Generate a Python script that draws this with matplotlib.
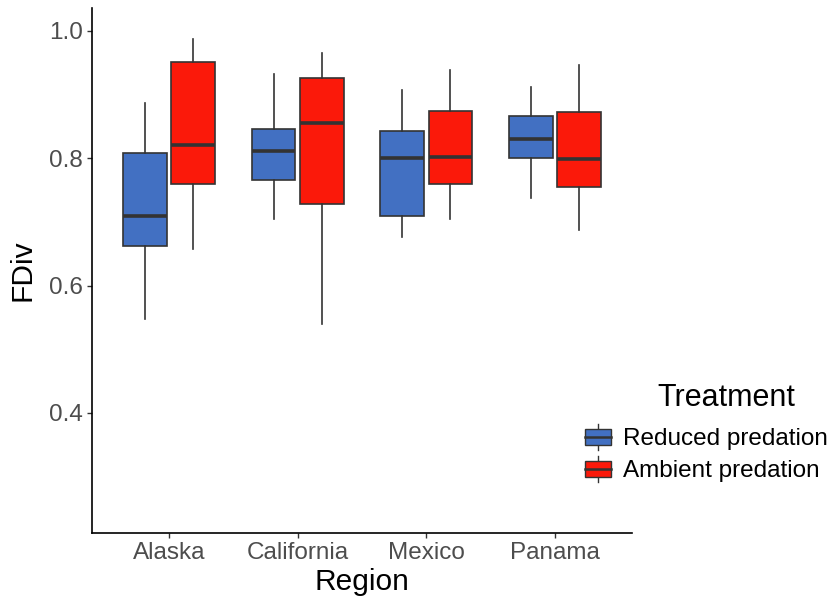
import matplotlib
matplotlib.use("Agg")
import matplotlib.pyplot as plt
from matplotlib.legend_handler import HandlerBase
from matplotlib.patches import Rectangle
from matplotlib.lines import Line2D

plt.rcParams['font.family'] = ['Liberation Sans', 'DejaVu Sans']

regions = ['Alaska', 'California', 'Mexico', 'Panama']
treatments = ['Reduced predation', 'Ambient predation']
colors = ['#4270C2', '#FB190A']

# five-number summaries per region: (low whisker, q1, median, q3, high whisker)
reduced = [
    (0.547, 0.662, 0.709, 0.809, 0.887),
    (0.705, 0.766, 0.811, 0.846, 0.932),
    (0.676, 0.710, 0.800, 0.842, 0.907),
    (0.737, 0.801, 0.830, 0.866, 0.912),
]
ambient = [
    (0.657, 0.759, 0.821, 0.951, 0.987),
    (0.539, 0.728, 0.856, 0.926, 0.965),
    (0.704, 0.760, 0.802, 0.874, 0.938),
    (0.688, 0.755, 0.799, 0.872, 0.947),
]

edge = '#333333'

fig = plt.figure(figsize=(8.34, 6.01), dpi=100)
ax = fig.add_axes([92 / 834, 1 - 533 / 601, 540 / 834, 525 / 601])

dodge = 0.1875
for k, (series, col) in enumerate(zip([reduced, ambient], colors)):
    stats = []
    for s in series:
        stats.append({'whislo': s[0], 'q1': s[1], 'med': s[2], 'q3': s[3], 'whishi': s[4], 'fliers': []})
    pos = [i + 1 + (k * 2 - 1) * dodge for i in range(len(regions))]
    ax.bxp(stats, positions=pos, widths=0.34, patch_artist=True, showcaps=False,
           boxprops=dict(facecolor=col, edgecolor=edge, linewidth=1.2),
           medianprops=dict(color=edge, linewidth=2.6, solid_capstyle='butt'),
           whiskerprops=dict(color=edge, linewidth=1.2), manage_ticks=False)

ax.set_xlim(0.4, 4.6)
ax.set_ylim(0.2113, 1.036)
ax.set_xticks(range(1, len(regions) + 1))
ax.set_xticklabels(regions)
ax.set_yticks([0.4, 0.6, 0.8, 1.0])
ax.set_yticklabels(['0.4', '0.6', '0.8', '1.0'])
ax.tick_params(axis='both', direction='out', length=3.5, width=1, color=edge,
               labelcolor='#4D4D4D', labelsize=17.5, pad=3)
for side in ['top', 'right']:
    ax.spines[side].set_visible(False)
for side in ['left', 'bottom']:
    ax.spines[side].set_linewidth(1.2)
    ax.spines[side].set_color('black')

ax.set_xlabel('Region', fontsize=21.5, labelpad=3)
ax.set_ylabel('FDiv', fontsize=21.5)
ax.yaxis.set_label_coords(-0.102, 0.5)


class BoxKey(HandlerBase):
    def create_artists(self, legend, orig, xd, yd, w, h, fontsize, trans):
        cx = xd + w / 2
        arts = []
        arts.append(Line2D([cx, cx], [yd - h * 0.31, yd + h * 1.31], color=edge, lw=1.0, transform=trans))
        arts.append(Rectangle((xd, yd), w, h, facecolor=orig.get_facecolor(),
                              edgecolor=edge, lw=1.0, transform=trans))
        arts.append(Line2D([xd, xd + w], [yd + h / 2, yd + h / 2], color=edge, lw=1.8, transform=trans))
        return arts


handles = [Rectangle((0, 0), 1, 1, facecolor=c) for c in colors]
leg = fig.legend(handles, treatments, handler_map={Rectangle: BoxKey()},
                 loc='upper left', bbox_to_anchor=(585 / 834, 1 - 428 / 601),
                 frameon=False, fontsize=17.5,
                 handlelength=1.07, handleheight=0.66, handletextpad=0.5,
                 labelspacing=0.4, borderaxespad=0, borderpad=0)
fig.text(726 / 834, 1 - 398 / 601, 'Treatment', fontsize=22, ha='center', va='center')

fig.savefig('out.png', dpi=100)
